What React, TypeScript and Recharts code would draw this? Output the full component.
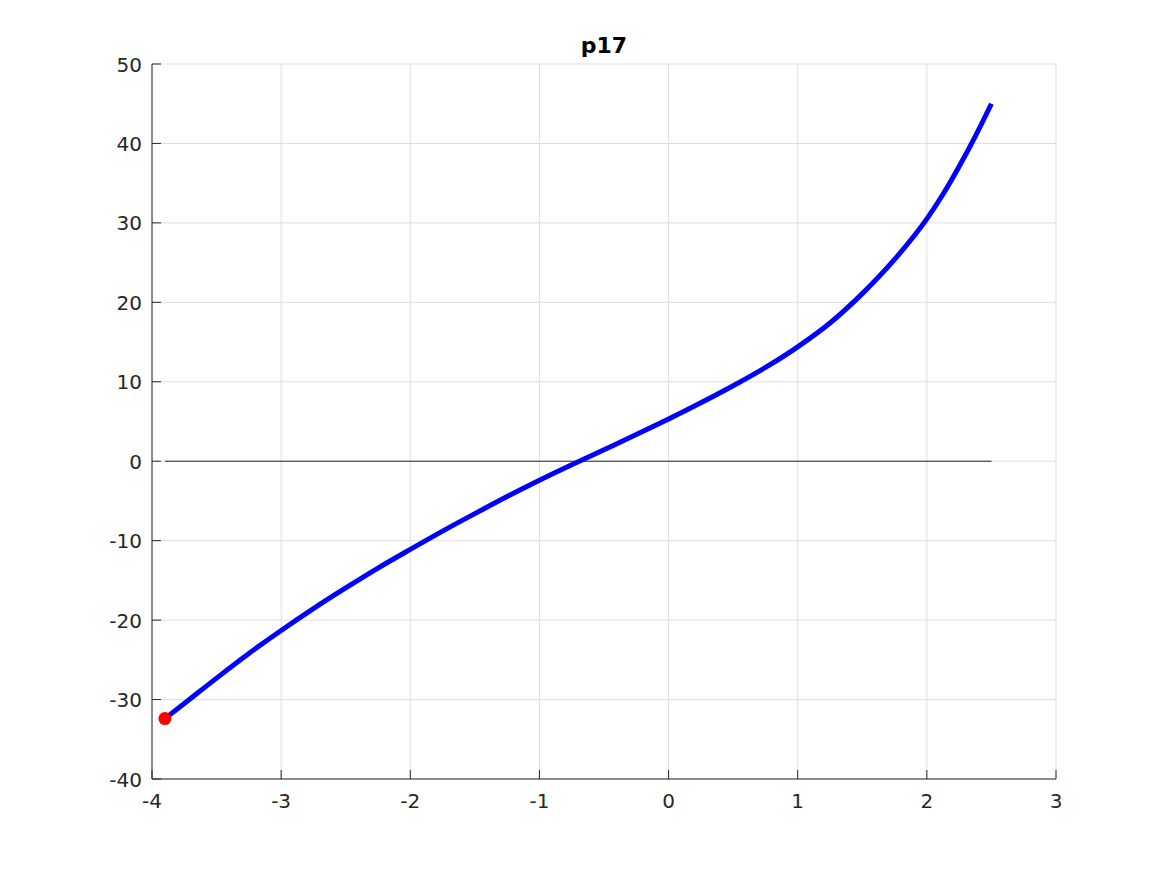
import React from "react";
import {
  ComposedChart,
  Line,
  Scatter,
  XAxis,
  YAxis,
  CartesianGrid,
} from "recharts";

const xs = [
  -3.9, -3.75, -3.5, -3.25, -3, -2.75, -2.5, -2.25, -2, -1.75, -1.5, -1.25, -1,
  -0.75, -0.5, -0.25, 0, 0.25, 0.5, 0.75, 1, 1.25, 1.5, 1.75, 2, 2.125, 2.25,
  2.375, 2.5,
];
const ys = [
  -32.4, -30.5, -27.3, -24.2, -21.3, -18.55, -15.95, -13.45, -11.1, -8.8, -6.6,
  -4.45, -2.4, -0.45, 1.45, 3.35, 5.3, 7.35, 9.5, 11.8, 14.4, 17.4, 21.1, 25.4,
  30.5, 33.6, 37.1, 40.9, 45.0,
];

const zeroX = [-3.9, 2.5];
const zeroY = [0, 0];

const startX = [-3.9];
const startY = [-32.4];

const xTicks = [-4, -3, -2, -1, 0, 1, 2, 3];
const yTicks = [-40, -30, -20, -10, 0, 10, 20, 30, 40, 50];

const curve = xs.map((x, i) => ({ x, y: ys[i] }));
const zeroLine = zeroX.map((x, i) => ({ x, y: zeroY[i] }));
const startPoint = startX.map((x, i) => ({ x, y: startY[i] }));

const W = 1167;
const H = 875;
const margin = { top: 64, right: 111, bottom: 56, left: 92 };
const xAxisH = 40;
const yAxisW = 60;
// where the axis lines sit, so the ticks can point inwards like matlab
const axisBottom = H - margin.bottom - xAxisH;
const axisLeft = margin.left + yAxisW;

const font = "'DejaVu Sans', sans-serif";
const axisColor = "#262626";

function XTick(props: any) {
  const { x, payload } = props;
  const y = axisBottom;
  return (
    <g>
      <line x1={x} y1={y} x2={x} y2={y - 9} stroke={axisColor} />
      <text
        x={x}
        y={y + 29}
        textAnchor="middle"
        fontSize={20}
        fontFamily={font}
        fill={axisColor}
      >
        {payload.value}
      </text>
    </g>
  );
}

function YTick(props: any) {
  const { y, payload } = props;
  const x = axisLeft;
  return (
    <g>
      <line x1={x} y1={y} x2={x + 9} y2={y} stroke={axisColor} />
      <text
        x={x - 10}
        y={y + 7.5}
        textAnchor="end"
        fontSize={20}
        fontFamily={font}
        fill={axisColor}
      >
        {payload.value}
      </text>
    </g>
  );
}

export default function App() {
  return (
    <div
      style={{
        position: "absolute",
        left: 0,
        top: 0,
        width: W,
        height: H,
        background: "#fff",
      }}
    >
      <div
        style={{
          position: "absolute",
          left: 504,
          top: 35,
          width: 200,
          textAlign: "center",
          fontFamily: font,
          fontWeight: "bold",
          fontSize: 22,
          lineHeight: 1,
          color: "#000",
        }}
      >
        p17
      </div>
      <ComposedChart width={W} height={H} margin={margin}>
        <CartesianGrid stroke="#dfdfdf" />
        <XAxis
          type="number"
          dataKey="x"
          domain={[-4, 3]}
          ticks={xTicks}
          allowDataOverflow
          height={xAxisH}
          stroke={axisColor}
          tickLine={false}
          tick={<XTick />}
        />
        <YAxis
          type="number"
          dataKey="y"
          domain={[-40, 50]}
          ticks={yTicks}
          allowDataOverflow
          width={yAxisW}
          stroke={axisColor}
          tickLine={false}
          tick={<YTick />}
        />
        <Line
          data={zeroLine}
          dataKey="y"
          stroke={axisColor}
          strokeWidth={1}
          dot={false}
          isAnimationActive={false}
        />
        <Line
          data={curve}
          dataKey="y"
          type="monotone"
          stroke="#0000ff"
          strokeWidth={5}
          dot={false}
          isAnimationActive={false}
        />
        <Scatter
          data={startPoint}
          dataKey="y"
          fill="#ff0000"
          shape={(p: any) => <circle cx={p.cx} cy={p.cy} r={6.5} fill="#ff0000" />}
          isAnimationActive={false}
        />
      </ComposedChart>
    </div>
  );
}
